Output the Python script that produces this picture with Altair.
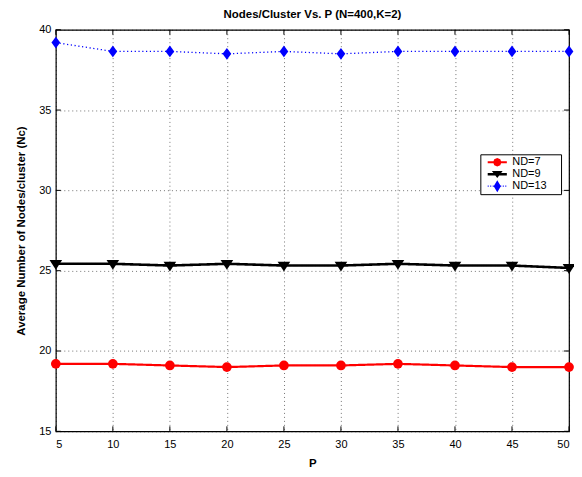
import altair as alt
import pandas as pd

P = [5, 10, 15, 20, 25, 30, 35, 40, 45, 50]
nd7 = [19.2, 19.2, 19.1, 19.0, 19.1, 19.1, 19.2, 19.1, 19.0, 19.0]
nd9 = [25.43, 25.43, 25.32, 25.43, 25.32, 25.32, 25.43, 25.32, 25.32, 25.17]
nd13 = [39.2, 38.65, 38.65, 38.5, 38.65, 38.5, 38.65, 38.65, 38.65, 38.65]
series = ["ND=7", "ND=9", "ND=13"]
colors = ["#FF0000", "#000000", "#0000FF"]
x_ticks = [5, 10, 15, 20, 25, 30, 35, 40, 45, 50]
y_ticks = [15, 20, 25, 30, 35, 40]

rows = []
for name, vals in zip(series, [nd7, nd9, nd13]):
    for p, v in zip(P, vals):
        rows.append({"P": p, "Nc": v, "series": name})
df = pd.DataFrame(rows)

W, H = 515, 403

xs = alt.Scale(domain=[5, 50], nice=False, zero=False)
ys = alt.Scale(domain=[15, 40], nice=False, zero=False)

marker_paths = [
    "circle",
    "M-1.3,-0.8L1.3,-0.8L0,1.25Z",
    "M0,-1.2L0.9,0L0,1.2L-0.9,0Z",
]
line_dash = [[1, 0], [1, 0], [1.2, 2.6]]
line_width = [2.2, 2.6, 1.3]

# legend symbols (filled paths: line segment + marker), unit = 6px
dots = "".join(
    f"M{-1.6 + i*0.42:.2f},-0.1H{-1.6 + i*0.42 + 0.17:.2f}V0.1H{-1.6 + i*0.42:.2f}Z" for i in range(8)
)
legend_paths = [
    "M-1.6,-0.17H1.6V0.17H-1.6Z"
    "M-0.7,0L-0.5,-0.5L0,-0.7L0.5,-0.5L0.7,0L0.5,0.5L0,0.7L-0.5,0.5Z",
    "M-1.6,-0.21H1.6V0.21H-1.6Z"
    "M-0.9,-0.55L0.9,-0.55L0,0.65Z",
    dots + "M0,-1L0.6,0L0,1L-0.6,0Z",
]

base = alt.Chart(df)

x_enc = alt.X("P:Q", scale=xs,
              axis=alt.Axis(values=x_ticks, title="P", grid=True, ticks=False,
                            domain=False, labelPadding=7, titlePadding=8, format="d"))
y_enc = alt.Y("Nc:Q", scale=ys,
              axis=alt.Axis(values=y_ticks, title="Average Number of Nodes/cluster (Nc)",
                            grid=True, ticks=False, domain=False, labelPadding=5,
                            titlePadding=12, format="d"))

line_layers = []
point_layers = []
for name, col, shp, dash, lw in zip(series, colors, marker_paths, line_dash, line_width):
    sub = base.transform_filter(alt.datum.series == name)
    line_layers.append(
        sub.mark_line(color=col, strokeDash=dash, strokeWidth=lw).encode(x=x_enc, y=y_enc)
    )
    point_layers.append(
        sub.mark_point(filled=True, opacity=1, color=col, shape=shp, size=95).encode(
            x=alt.X("P:Q", scale=xs), y=alt.Y("Nc:Q", scale=ys))
    )

leg = alt.Legend(title=None, orient="none", legendX=426, legendY=125,
                 symbolSize=144, symbolStrokeWidth=0, symbolOpacity=1,
                 symbolOffset=9,
                 labelFontSize=11, labelFont="Liberation Sans",
                 labelColor="black", labelOffset=9,
                 labelExpr="datum.label + '\u00a0\u00a0\u00a0\u00a0\u200b'",
                 padding=2, rowPadding=1,
                 fillColor="white", strokeColor="black")

# invisible marks that only carry the legend
legend_layer = base.mark_point(filled=True).encode(
    x=alt.X("P:Q", scale=xs),
    y=alt.Y("Nc:Q", scale=ys),
    color=alt.Color("series:N", scale=alt.Scale(domain=series, range=colors), legend=leg),
    shape=alt.Shape("series:N", scale=alt.Scale(domain=series, range=legend_paths), legend=leg),
    opacity=alt.value(0),
)

xt = pd.DataFrame({"v": x_ticks})
yt = pd.DataFrame({"v": y_ticks})
tick_style = dict(color="black", strokeWidth=1)
xb = alt.Chart(xt).mark_rule(**tick_style).encode(x=alt.X("v:Q", scale=xs), y=alt.value(H), y2=alt.value(H - 5))
xtp = alt.Chart(xt).mark_rule(**tick_style).encode(x=alt.X("v:Q", scale=xs), y=alt.value(0), y2=alt.value(5))
yl = alt.Chart(yt).mark_rule(**tick_style).encode(y=alt.Y("v:Q", scale=ys), x=alt.value(0), x2=alt.value(5))
yr = alt.Chart(yt).mark_rule(**tick_style).encode(y=alt.Y("v:Q", scale=ys), x=alt.value(W), x2=alt.value(W - 5))

chart = alt.layer(*line_layers, *point_layers, legend_layer, xb, xtp, yl, yr).properties(
    width=W, height=H,
    title=alt.TitleParams("Nodes/Cluster Vs. P (N=400,K=2)", fontSize=11.5,
                          font="Liberation Sans", fontWeight="bold", offset=3, color="black"),
    autosize=alt.AutoSizeParams(type="none"),
    padding={"left": 48, "top": 21, "right": 5, "bottom": 40},
).configure_view(stroke="black", strokeWidth=1.2).configure_axis(
    labelFont="Liberation Sans", labelFontSize=11, labelColor="black",
    titleFont="Liberation Sans", titleFontSize=11.5, titleFontWeight="bold", titleColor="black",
    gridColor="#000000", gridOpacity=0.55, gridDash=[1, 3], gridWidth=1,
)

chart.save("out.html", embed_options={"renderer": "svg", "actions": False})
